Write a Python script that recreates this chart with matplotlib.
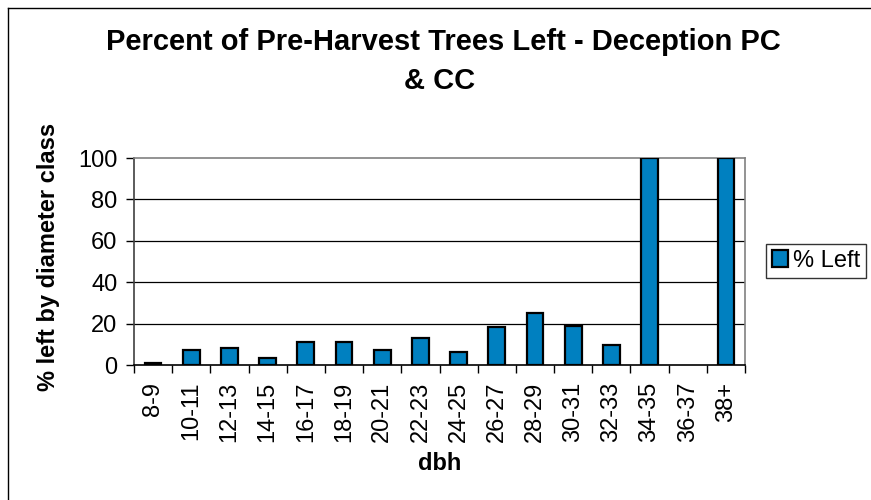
import matplotlib
matplotlib.use("Agg")
import matplotlib.pyplot as plt
from matplotlib.lines import Line2D

categories = ["8-9", "10-11", "12-13", "14-15", "16-17", "18-19", "20-21", "22-23",
              "24-25", "26-27", "28-29", "30-31", "32-33", "34-35", "36-37", "38+"]
pct_left = [1.1, 7.1, 8.0, 3.2, 11.0, 11.0, 7.4, 12.9, 6.1, 18.5, 25.0, 19.0, 9.5, 100.0, 0.0, 100.0]
y_ticks = [0, 20, 40, 60, 80, 100]

plt.rcParams['font.family'] = ['Liberation Sans', 'DejaVu Sans']

W, H = 871, 500
fig = plt.figure(figsize=(W / 100, H / 100), dpi=100)
fig.patch.set_facecolor('white')

# outer chart border (only left/top visible in the crop)
fig.lines.append(Line2D([8 / W, 8 / W], [0, 1 - 8 / H], transform=fig.transFigure,
                        color='black', linewidth=1.0))
fig.lines.append(Line2D([8 / W, 1], [1 - 8 / H, 1 - 8 / H], transform=fig.transFigure,
                        color='black', linewidth=1.0))

ax_l, ax_r, ax_t, ax_b = 134, 745, 158, 365
ax = fig.add_axes([ax_l / W, 1 - ax_b / H, (ax_r - ax_l) / W, (ax_b - ax_t) / H])

x = list(range(len(categories)))
edge = ['black' if v > 0 else 'none' for v in pct_left]
bars = ax.bar(x, pct_left, width=0.44, color='#0080C0', edgecolor=edge,
              linewidth=1.6, label='% Left', zorder=3)

ax.set_xlim(-0.5, len(categories) - 0.5)
ax.set_ylim(0, 100)
ax.set_yticks(y_ticks)
ax.set_yticklabels([str(v) for v in y_ticks], fontsize=17)
for v in y_ticks[1:-1]:
    ax.axhline(v, color='black', linewidth=0.9, zorder=1)

ax.set_xticks(x)
ax.set_xticklabels(categories, rotation=90, fontsize=17)
ax.tick_params(axis='x', length=0, pad=12)
ax.set_xticks([i - 0.5 for i in range(len(categories) + 1)], minor=True)
ax.tick_params(axis='x', which='minor', length=6, width=1.0, color='black', direction='out')
ax.tick_params(axis='y', length=6, width=1.0, direction='out', pad=6)

for s in ['top', 'right']:
    ax.spines[s].set_color('#808080')
    ax.spines[s].set_linewidth(1.2)
ax.spines['left'].set_color('#404040')
ax.spines['left'].set_linewidth(1.2)
ax.spines['bottom'].set_color('black')
ax.spines['bottom'].set_linewidth(1.2)

fig.text(443 / W, 1 - 42 / H, "Percent of Pre-Harvest Trees Left - Deception PC",
         ha='center', va='center', fontsize=21, fontweight='bold')
fig.text(440 / W, 1 - 81 / H, "& CC", ha='center', va='center', fontsize=21, fontweight='bold')

fig.text(48 / W, 1 - 257 / H, "% left by diameter class", rotation=90, ha='center', va='center',
         fontsize=17, fontweight='bold')
fig.text(440 / W, 1 - 464 / H, "dbh", ha='center', va='center', fontsize=17, fontweight='bold')

leg = fig.legend(handles=[bars], labels=['% Left'], loc='center left',
                 bbox_to_anchor=(766 / W, 1 - 261 / H), fontsize=17, frameon=True,
                 fancybox=False, handlelength=0.7, handleheight=0.7, handletextpad=0.2,
                 borderpad=0.25, borderaxespad=0)
leg.get_frame().set_edgecolor('black')
leg.get_frame().set_linewidth(1.0)

fig.savefig('out.png', dpi=100)
